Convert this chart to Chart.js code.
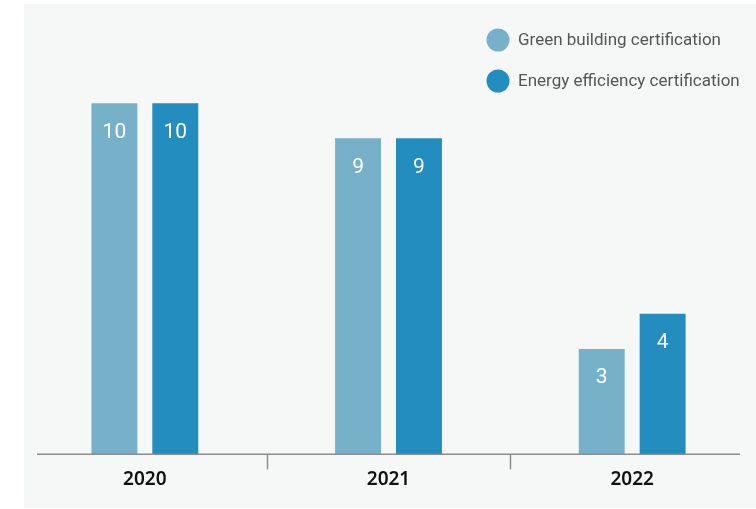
<!DOCTYPE html>
<html>
<head>
<meta charset="utf-8">
<script src="https://cdn.jsdelivr.net/npm/chart.js@4/dist/chart.umd.min.js"></script>
<style>
  html, body { margin: 0; padding: 0; background: #ffffff; }
  #wrap { width: 756px; height: 509px; position: relative; }
</style>
</head>
<body>
<div id="wrap"><canvas id="certChart"></canvas></div>
<script>
// chart data
const years = ['2020', '2021', '2022'];
const greenBuilding = [10, 9, 3];
const energyEfficiency = [10, 9, 4];
const seriesNames = ['Green building certification', 'Energy efficiency certification'];
const seriesColors = ['#77b1c9', '#238dc0'];

// light grey panel behind everything
const panelBg = {
    id: 'panelBg',
    beforeDraw(chart) {
        const ctx = chart.ctx;
        ctx.save();
        ctx.fillStyle = '#f6f7f7';
        ctx.fillRect(24, 4, chart.width - 24, chart.height - 5);
        ctx.restore();
    }
};

// baseline + separators between year groups
const baseAxis = {
    id: 'baseAxis',
    afterDatasetsDraw(chart) {
        const ctx = chart.ctx;
        const area = chart.chartArea;
        const xs = chart.scales.x;
        ctx.save();
        ctx.strokeStyle = '#8c8c8c';
        ctx.lineWidth = 1.5;
        ctx.beginPath();
        ctx.moveTo(area.left + 14, area.bottom);
        ctx.lineTo(area.right - 14, area.bottom);
        for (let i = 0; i < years.length - 1; i++) {
            const mid = Math.round((xs.getPixelForTick(i) + xs.getPixelForTick(i + 1)) / 2) + 0.5;
            ctx.moveTo(mid, area.bottom);
            ctx.lineTo(mid, area.bottom + 15);
        }
        ctx.stroke();
        ctx.restore();
    }
};

// white value labels inside the bars
const barValues = {
    id: 'barValues',
    afterDatasetsDraw(chart) {
        const ctx = chart.ctx;
        ctx.save();
        ctx.fillStyle = '#ffffff';
        ctx.font = '400 21px Roboto, "Noto Sans", sans-serif';
        ctx.textAlign = 'center';
        ctx.textBaseline = 'alphabetic';
        chart.data.datasets.forEach((ds, di) => {
            chart.getDatasetMeta(di).data.forEach((bar, i) => {
                ctx.fillText(String(ds.data[i]), bar.x, bar.y + 34.5);
            });
        });
        ctx.restore();
    }
};

// legend with round swatches, top right
const roundLegend = {
    id: 'roundLegend',
    afterDraw(chart) {
        const ctx = chart.ctx;
        ctx.save();
        ctx.font = '17px Roboto, "Noto Sans", sans-serif';
        ctx.textBaseline = 'middle';
        ctx.textAlign = 'left';
        chart.data.datasets.forEach((ds, i) => {
            const cy = 40 + i * 41;
            ctx.fillStyle = ds.backgroundColor;
            ctx.beginPath();
            ctx.arc(498, cy, 11.5, 0, Math.PI * 2);
            ctx.fill();
            ctx.fillStyle = '#555555';
            ctx.fillText(ds.label, 518, cy + 1);
        });
        ctx.restore();
    }
};

new Chart(document.getElementById('certChart'), {
    type: 'bar',
    data: {
        labels: years,
        datasets: [
            { label: seriesNames[0], data: greenBuilding, backgroundColor: seriesColors[0] },
            { label: seriesNames[1], data: energyEfficiency, backgroundColor: seriesColors[1] }
        ]
    },
    options: {
        responsive: true,
        maintainAspectRatio: false,
        animation: false,
        categoryPercentage: 0.5,
        barPercentage: 0.754,
        layout: { padding: { top: 33, left: 23, right: 2, bottom: 4 } },
        plugins: {
            legend: { display: false },
            tooltip: { enabled: false }
        },
        scales: {
            y: { display: false, min: 0, max: 12 },
            x: {
                grid: { display: false, drawTicks: false },
                border: { display: false },
                ticks: {
                    color: '#111111',
                    padding: 14,
                    font: { family: '"Noto Sans", sans-serif', size: 19, weight: '600' }
                }
            }
        }
    },
    plugins: [panelBg, baseAxis, barValues, roundLegend]
});
</script>
</body>
</html>
